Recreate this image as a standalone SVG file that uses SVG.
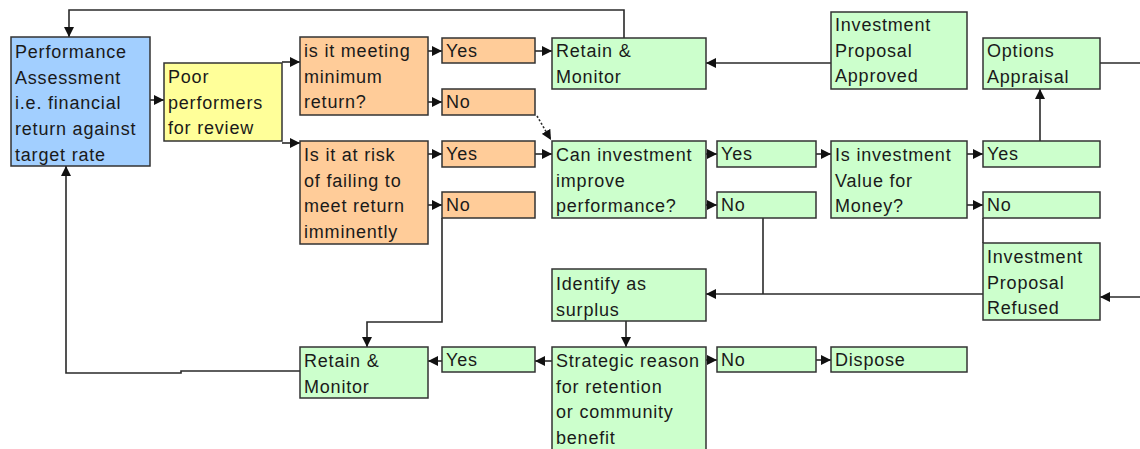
<svg xmlns="http://www.w3.org/2000/svg" width="1140" height="449" viewBox="0 0 1140 449">
<style>
.n rect{stroke:#333;stroke-width:1.5}
.b{fill:#A2CFFF}.y{fill:#FFFF99}.o{fill:#FFCC99}.g{fill:#CCFFCC}
text{font-family:"Liberation Sans",Arial,sans-serif;font-size:18px;letter-spacing:0.8px;fill:#1a1a1a}
.c path{fill:none;stroke:#2a2a2a;stroke-width:1.6}
.c .d{stroke-dasharray:2,2}
</style>
<defs>
<marker id="a" viewBox="0 0 10 10" refX="10" refY="5" markerWidth="10" markerHeight="10" markerUnits="userSpaceOnUse" orient="auto"><path d="M0,0L10,5L0,10z" fill="#111"/></marker>
</defs>
<rect width="1140" height="449" fill="#fff"/>
<g class="c">
<path d="M150,100H164" marker-end="url(#a)"/>
<path d="M282,62H300" marker-end="url(#a)"/>
<path d="M282,143H300" marker-end="url(#a)"/>
<path d="M428,51H442" marker-end="url(#a)"/>
<path d="M428,102H442" marker-end="url(#a)"/>
<path d="M428,154H442" marker-end="url(#a)"/>
<path d="M428,205H442" marker-end="url(#a)"/>
<path d="M535,51H552" marker-end="url(#a)"/>
<path class="d" d="M537,116L551,140" marker-end="url(#a)"/>
<path d="M535,154H552" marker-end="url(#a)"/>
<path d="M624,38V10H69V37" marker-end="url(#a)"/>
<path d="M831,63H706" marker-end="url(#a)"/>
<path d="M706,154H717" marker-end="url(#a)"/>
<path d="M706,205H717" marker-end="url(#a)"/>
<path d="M816,154H831" marker-end="url(#a)"/>
<path d="M967,154H983" marker-end="url(#a)"/>
<path d="M967,205H983" marker-end="url(#a)"/>
<path d="M1040,141V89" marker-end="url(#a)"/>
<path d="M1100,63H1140"/>
<path d="M983,218V243"/>
<path d="M763,218V294"/>
<path d="M983,294H706" marker-end="url(#a)"/>
<path d="M1140,297H1100" marker-end="url(#a)"/>
<path d="M626,321V347" marker-end="url(#a)"/>
<path d="M706,360H717" marker-end="url(#a)"/>
<path d="M816,360H831" marker-end="url(#a)"/>
<path d="M552,361H535" marker-end="url(#a)"/>
<path d="M442,361H428" marker-end="url(#a)"/>
<path d="M442,218V322H367V347" marker-end="url(#a)"/>
<path d="M300,371H181V373H66V166" marker-end="url(#a)"/>
</g>
<g class="n">
<g id="pa"><rect class="b" x="11" y="37" width="139" height="129"/><text x="15" y="58">Performance<tspan x="15" dy="25.7">Assessment</tspan><tspan x="15" dy="25.7">i.e. financial</tspan><tspan x="15" dy="25.7">return against</tspan><tspan x="15" dy="25.7">target rate</tspan></text></g>
<g id="poor"><rect class="y" x="164" y="63" width="118" height="78"/><text x="168" y="83">Poor<tspan x="168" dy="25.7">performers</tspan><tspan x="168" dy="25.7">for review</tspan></text></g>
<g id="q1"><rect class="o" x="300" y="37" width="128" height="78"/><text x="304" y="57">is it meeting<tspan x="304" dy="25.7">minimum</tspan><tspan x="304" dy="25.7">return?</tspan></text></g>
<g id="y1"><rect class="o" x="442" y="38" width="93" height="25"/><text x="446" y="57">Yes</text></g>
<g id="n1"><rect class="o" x="442" y="89" width="93" height="26"/><text x="446" y="108">No</text></g>
<g id="q2"><rect class="o" x="300" y="141" width="128" height="103"/><text x="304" y="161">Is it at risk<tspan x="304" dy="25.7">of failing to</tspan><tspan x="304" dy="25.7">meet return</tspan><tspan x="304" dy="25.7">imminently</tspan></text></g>
<g id="y2"><rect class="o" x="442" y="141" width="93" height="26"/><text x="446" y="160">Yes</text></g>
<g id="n2"><rect class="o" x="442" y="192" width="93" height="26"/><text x="446" y="211">No</text></g>
<g id="rm1"><rect class="g" x="552" y="38" width="154" height="51"/><text x="556" y="57">Retain &amp;<tspan x="556" dy="25.7">Monitor</tspan></text></g>
<g id="ipa"><rect class="g" x="831" y="12" width="136" height="77"/><text x="835" y="31">Investment<tspan x="835" dy="25.7">Proposal</tspan><tspan x="835" dy="25.7">Approved</tspan></text></g>
<g id="oa"><rect class="g" x="983" y="38" width="117" height="51"/><text x="987" y="57">Options<tspan x="987" dy="25.7">Appraisal</tspan></text></g>
<g id="ci"><rect class="g" x="552" y="141" width="154" height="77"/><text x="556" y="161">Can investment<tspan x="556" dy="25.7">improve</tspan><tspan x="556" dy="25.7">performance?</tspan></text></g>
<g id="y3"><rect class="g" x="717" y="141" width="99" height="26"/><text x="721" y="160">Yes</text></g>
<g id="n3"><rect class="g" x="717" y="192" width="99" height="26"/><text x="721" y="211">No</text></g>
<g id="vm"><rect class="g" x="831" y="141" width="136" height="77"/><text x="835" y="161">Is investment<tspan x="835" dy="25.7">Value for</tspan><tspan x="835" dy="25.7">Money?</tspan></text></g>
<g id="y4"><rect class="g" x="983" y="141" width="117" height="26"/><text x="987" y="160">Yes</text></g>
<g id="n4"><rect class="g" x="983" y="192" width="117" height="26"/><text x="987" y="211">No</text></g>
<g id="ipr"><rect class="g" x="983" y="243" width="117" height="77"/><text x="987" y="263">Investment<tspan x="987" dy="25.7">Proposal</tspan><tspan x="987" dy="25.7">Refused</tspan></text></g>
<g id="is"><rect class="g" x="552" y="269" width="154" height="52"/><text x="556" y="290">Identify as<tspan x="556" dy="25.7">surplus</tspan></text></g>
<g id="sr"><rect class="g" x="552" y="347" width="154" height="110"/><text x="556" y="367">Strategic reason<tspan x="556" dy="25.7">for retention</tspan><tspan x="556" dy="25.7">or community</tspan><tspan x="556" dy="25.7">benefit</tspan></text></g>
<g id="n5"><rect class="g" x="717" y="347" width="99" height="25"/><text x="721" y="366">No</text></g>
<g id="dp"><rect class="g" x="831" y="347" width="136" height="25"/><text x="835" y="366">Dispose</text></g>
<g id="rm2"><rect class="g" x="300" y="347" width="128" height="51"/><text x="304" y="367">Retain &amp;<tspan x="304" dy="25.7">Monitor</tspan></text></g>
<g id="y5"><rect class="g" x="442" y="347" width="93" height="25"/><text x="446" y="366">Yes</text></g>
</g>
</svg>
